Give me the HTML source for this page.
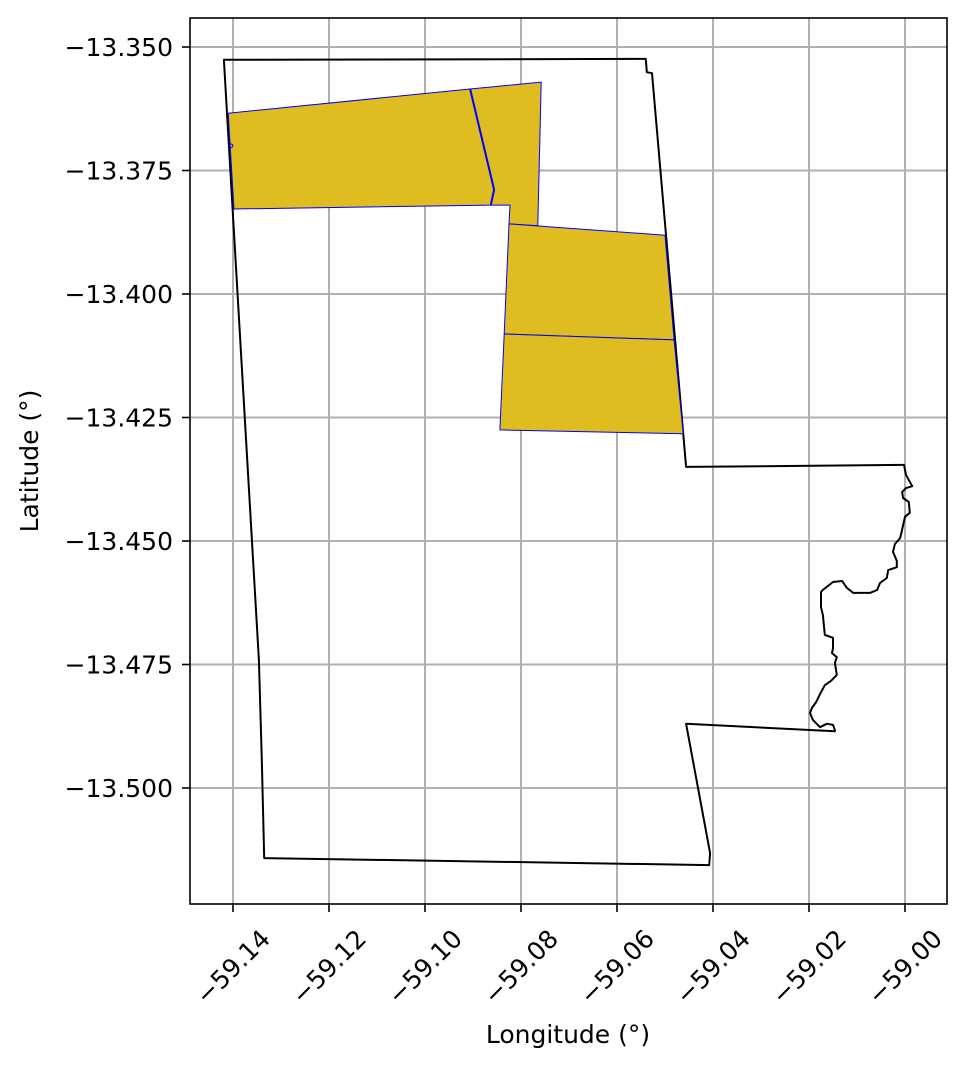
<!DOCTYPE html>
<html><head><meta charset="utf-8"><style>
html,body{margin:0;padding:0;background:#fff;}
svg{display:block;font-family:"DejaVu Sans","Liberation Sans",sans-serif;}
</style></head><body>
<svg id="chart" width="967" height="1068" viewBox="0 0 967 1068"></svg>
<script>
const xTicks=[-59.14,-59.12,-59.10,-59.08,-59.06,-59.04,-59.02,-59.00];
const xTickLabels=["\u221259.14","\u221259.12","\u221259.10","\u221259.08","\u221259.06","\u221259.04","\u221259.02","\u221259.00"];
const yTicks=[-13.350,-13.375,-13.400,-13.425,-13.450,-13.475,-13.500];
const yTickLabels=["\u221213.350","\u221213.375","\u221213.400","\u221213.425","\u221213.450","\u221213.475","\u221213.500"];
const boundaryLon=[-59.1419,-59.0540,-59.0538,-59.0527,-59.0456,-59.0004,-59.0002,-58.9998,-58.9985,-58.9998,-59.0006,-59.0004,-58.9992,-58.9990,-59.0000,-59.0010,-59.0021,-59.0025,-59.0017,-59.0017,-59.0035,-59.0038,-59.0052,-59.0058,-59.0073,-59.0108,-59.0121,-59.0131,-59.0150,-59.0171,-59.0175,-59.0175,-59.0171,-59.0167,-59.0150,-59.0150,-59.0152,-59.0142,-59.0146,-59.0142,-59.0154,-59.0167,-59.0177,-59.0185,-59.0194,-59.0198,-59.0192,-59.0177,-59.0163,-59.0150,-59.0146,-59.0146,-59.0456,-59.0406,-59.0408,-59.1335,-59.1340,-59.1346];
const boundaryLat=[-13.3526,-13.3524,-13.3551,-13.3553,-13.4350,-13.4346,-13.4346,-13.4366,-13.4389,-13.4393,-13.4401,-13.4413,-13.4421,-13.4443,-13.4451,-13.4494,-13.4506,-13.4522,-13.4540,-13.4553,-13.4559,-13.4575,-13.4585,-13.4599,-13.4605,-13.4605,-13.4595,-13.4581,-13.4583,-13.4599,-13.4603,-13.4634,-13.4650,-13.4690,-13.4696,-13.4717,-13.4727,-13.4735,-13.4747,-13.4771,-13.4783,-13.4792,-13.4810,-13.4826,-13.4838,-13.4848,-13.4862,-13.4877,-13.4870,-13.4872,-13.4883,-13.4885,-13.4870,-13.5132,-13.5156,-13.5142,-13.4943,-13.4741];
const parcel1Lon=[-59.1410,-59.0906,-59.0856,-59.0863,-59.1398];
const parcel1Lat=[-13.3634,-13.3585,-13.3789,-13.3820,-13.3828];
const parcel2Lon=[-59.0906,-59.0758,-59.0765,-59.0825,-59.0823,-59.0863,-59.0856];
const parcel2Lat=[-13.3585,-13.3571,-13.3862,-13.3858,-13.3820,-13.3820,-13.3789];
const parcel3Lon=[-59.0825,-59.0500,-59.0481,-59.0835];
const parcel3Lat=[-13.3858,-13.3881,-13.4093,-13.4081];
const parcel4Lon=[-59.0835,-59.0481,-59.0462,-59.0844];
const parcel4Lat=[-13.4081,-13.4093,-13.4283,-13.4275];
const dotLon=[-59.1404];
const dotLat=[-13.3700];

const X0=190,X1=947,Y0=18,Y1=904;
function xs(v){return 233+(v+59.14)*4800;}
function ys(v){return 47+(-13.35-v)*4940;}
const NS="http://www.w3.org/2000/svg";
const svg=document.getElementById('chart');
function mk(t,a,p){const e=document.createElementNS(NS,t);for(const k in a)e.setAttribute(k,a[k]);(p||svg).appendChild(e);return e;}

const grid=mk('g',{});


xTicks.forEach(t=>{const l=mk('line',{x1:xs(t),x2:xs(t),y1:Y0,y2:Y1,stroke:'#b0b0b0','stroke-width':2},grid);

});
yTicks.forEach(t=>{const l=mk('line',{x1:X0,x2:X1,y1:ys(t),y2:ys(t),stroke:'#b0b0b0','stroke-width':2},grid);

});

function pts(lo,la){return lo.map((v,i)=>xs(v).toFixed(1)+','+ys(la[i]).toFixed(1)).join(' ');}
const b=mk('polygon',{points:pts(boundaryLon,boundaryLat),fill:'none',stroke:'#000','stroke-width':2,'stroke-linejoin':'round'});


[[parcel1Lon,parcel1Lat],[parcel2Lon,parcel2Lat],[parcel3Lon,parcel3Lat],[parcel4Lon,parcel4Lat]].forEach((p,i)=>{
const e=mk('polygon',{points:pts(p[0],p[1]),fill:'#dfbc1f',stroke:'#0000ff','stroke-width':1,'stroke-linejoin':'round'});

});
mk('line',{x1:xs(parcel1Lon[1]),y1:ys(parcel1Lat[1]),x2:xs(parcel1Lon[2]),y2:ys(parcel1Lat[2]),stroke:'#0000ff','stroke-width':2});
mk('line',{x1:xs(parcel1Lon[2]),y1:ys(parcel1Lat[2]),x2:xs(parcel1Lon[3]),y2:ys(parcel1Lat[3]),stroke:'#0000ff','stroke-width':2});
const d=mk('circle',{cx:xs(dotLon[0]),cy:ys(dotLat[0]),r:1.8,fill:'none',stroke:'#0000ff','stroke-width':1});



const fr=mk('rect',{x:X0,y:Y0,width:X1-X0,height:Y1-Y0,fill:'none',stroke:'#000','stroke-width':1.6});



xTicks.forEach((t,i)=>{const x=xs(t);
mk('line',{x1:x,x2:x,y1:Y1,y2:Y1+8,stroke:'#000','stroke-width':1.6});
const cy=967;
const tx=mk('text',{x:x,y:cy,'font-size':25,'text-anchor':'middle','dominant-baseline':'central',transform:`rotate(-45 ${x} ${cy})`});
tx.textContent=xTickLabels[i];

});
yTicks.forEach((t,i)=>{const y=ys(t);
mk('line',{x1:X0-8,x2:X0,y1:y,y2:y,stroke:'#000','stroke-width':1.6});
const tx=mk('text',{x:X0-17,y:y+9,'font-size':25,'text-anchor':'end'});
tx.textContent=yTickLabels[i];

});
const xl=mk('text',{x:568,y:1043,'font-size':25,'text-anchor':'middle'});
xl.textContent='Longitude (°)';


const yl=mk('text',{x:38,y:461,'font-size':25,'text-anchor':'middle',transform:'rotate(-90 38 461)'});
yl.textContent='Latitude (°)';


</script>
</body></html>
